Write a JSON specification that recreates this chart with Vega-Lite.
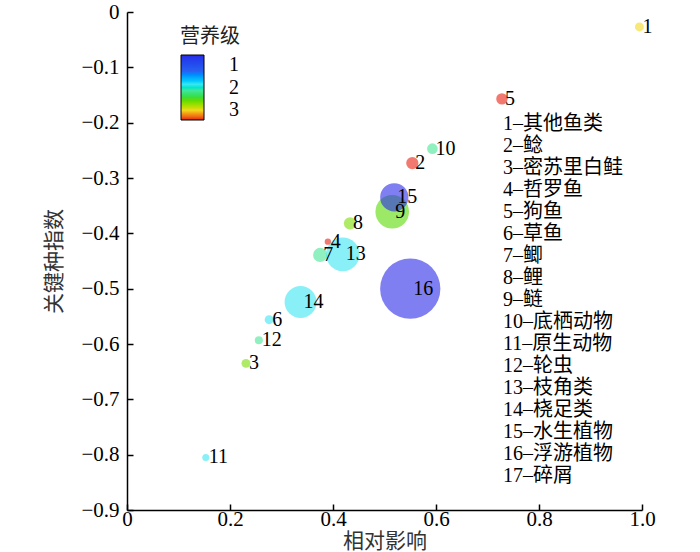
{
  "$schema": "https://vega.github.io/schema/vega-lite/v6.json",
  "width": 515,
  "height": 498,
  "autosize": {"type": "none"},
  "padding": {"left": 127, "top": 12, "right": 58, "bottom": 42},
  "background": "white",
  "config": {
    "view": {"stroke": null},
    "font": "Liberation Serif, Noto Sans CJK SC",
    "axis": {
      "grid": false,
      "domainColor": "black",
      "domainWidth": 1.5,
      "tickColor": "black",
      "tickWidth": 1.5,
      "tickSize": -6,
      "labelFont": "Liberation Serif",
      "labelFontSize": 21,
      "labelColor": "black",
      "titleFont": "Noto Sans CJK SC",
      "titleFontSize": 21,
      "titleFontWeight": "normal",
      "titleColor": "#333333",
      "labelFlush": false
    }
  },
  "data": {
    "values": [
      {"id": 1, "label": "1–其他鱼类", "x": 0.995, "y": -0.027, "tl": 2.7, "bio": 80},
      {"id": 2, "label": "2–鲶", "x": 0.554, "y": -0.273, "tl": 3.0, "bio": 150},
      {"id": 3, "label": "3–密苏里白鲑", "x": 0.231, "y": -0.635, "tl": 2.45, "bio": 80},
      {"id": 4, "label": "4–哲罗鱼", "x": 0.39, "y": -0.415, "tl": 3.0, "bio": 40},
      {"id": 5, "label": "5–狗鱼", "x": 0.728, "y": -0.157, "tl": 3.0, "bio": 130},
      {"id": 6, "label": "6–草鱼", "x": 0.276, "y": -0.556, "tl": 1.9, "bio": 80},
      {"id": 7, "label": "7–鲫", "x": 0.375, "y": -0.439, "tl": 2.1, "bio": 200},
      {"id": 8, "label": "8–鲤", "x": 0.433, "y": -0.382, "tl": 2.45, "bio": 150},
      {"id": 9, "label": "9–鲢", "x": 0.515, "y": -0.361, "tl": 2.38, "bio": 1130},
      {"id": 10, "label": "10–底栖动物", "x": 0.593, "y": -0.247, "tl": 2.1, "bio": 113},
      {"id": 11, "label": "11–原生动物", "x": 0.153, "y": -0.805, "tl": 1.9, "bio": 50},
      {"id": 12, "label": "12–轮虫", "x": 0.256, "y": -0.593, "tl": 2.1, "bio": 64},
      {"id": 13, "label": "13–枝角类", "x": 0.419, "y": -0.438, "tl": 1.9, "bio": 1130},
      {"id": 14, "label": "14–桡足类", "x": 0.337, "y": -0.524, "tl": 1.9, "bio": 1020},
      {"id": 15, "label": "15–水生植物", "x": 0.519, "y": -0.335, "tl": 1.0, "bio": 800},
      {"id": 16, "label": "16–浮游植物", "x": 0.55, "y": -0.5, "tl": 1.0, "bio": 3630},
      {"id": 17, "label": "17–碎屑", "x": null, "y": null, "tl": 1.0, "bio": null}
    ]
  },
  "layer": [
    {
      "mark": {"type": "point", "filled": true, "fillOpacity": 0.6, "strokeWidth": 0},
      "encoding": {
        "x": {
          "field": "x", "type": "quantitative",
          "scale": {"domain": [0, 1], "nice": false},
          "axis": {"title": "相对影响", "values": [0, 0.2, 0.4, 0.6, 0.8, 1.0],
                   "labelExpr": "datum.value == 0 ? '0' : format(datum.value, '.1f')",
                   "labelPadding": 4, "titlePadding": 1}
        },
        "y": {
          "field": "y", "type": "quantitative",
          "scale": {"domain": [-0.9, 0], "nice": false},
          "axis": {"title": "关键种指数", "values": [0, -0.1, -0.2, -0.3, -0.4, -0.5, -0.6, -0.7, -0.8, -0.9],
                   "labelExpr": "datum.value == 0 ? '0' : format(datum.value, '.1f')",
                   "labelPadding": 14, "titlePadding": 16}
        },
        "color": {
          "field": "tl", "type": "quantitative",
          "scale": {
            "domain": [3, 2.85, 2.7, 2.55, 2.35, 2.1, 1.9, 1.5, 1],
            "range": ["#e82010", "#f08020", "#f3d91e", "#a0e000", "#46d900", "#46e696", "#3ae6f3", "#2a60f0", "#2a2ae8"]
          },
          "legend": {
            "orient": "none", "legendX": 53, "legendY": 15,
            "title": "营养级", "titleFont": "Noto Sans CJK SC", "titleFontSize": 20,
            "titleFontWeight": "normal", "titleColor": "#222222", "titleAnchor": "middle", "titlePadding": 8,
            "direction": "vertical", "gradientLength": 65, "gradientThickness": 23,
            "gradientStrokeColor": "black", "gradientStrokeWidth": 1,
            "labelFont": "Liberation Serif", "labelFontSize": 20, "labelColor": "black", "labelOffset": 25,
            "values": [1, 2, 3]
          }
        },
        "size": {
          "field": "bio", "type": "quantitative",
          "scale": {"type": "linear", "domain": [0, 3630], "range": [0, 3630], "zero": true},
          "legend": null
        },
        "shape": {
          "field": "label", "type": "nominal",
          "scale": {
            "domain": ["1–其他鱼类", "2–鲶", "3–密苏里白鲑", "4–哲罗鱼", "5–狗鱼", "6–草鱼", "7–鲫", "8–鲤", "9–鲢", "10–底栖动物", "11–原生动物", "12–轮虫", "13–枝角类", "14–桡足类", "15–水生植物", "16–浮游植物", "17–碎屑"],
            "range": ["circle"]
          },
          "legend": {
            "orient": "none", "legendX": 356, "legendY": 102, "title": null,
            "symbolSize": 0, "symbolOpacity": 0, "symbolStrokeWidth": 0, "labelOffset": 0,
            "labelFont": "Liberation Serif, Noto Sans CJK SC", "labelFontSize": 20, "labelColor": "black",
            "rowPadding": 2, "labelLimit": 300
          }
        }
      }
    },
    {
      "mark": {"type": "text", "align": "left", "baseline": "middle", "dx": 3, "fontSize": 20, "font": "Liberation Serif", "color": "black"},
      "encoding": {
        "x": {"field": "x", "type": "quantitative"},
        "y": {"field": "y", "type": "quantitative"},
        "text": {"field": "id", "type": "nominal"}
      }
    }
  ]
}
